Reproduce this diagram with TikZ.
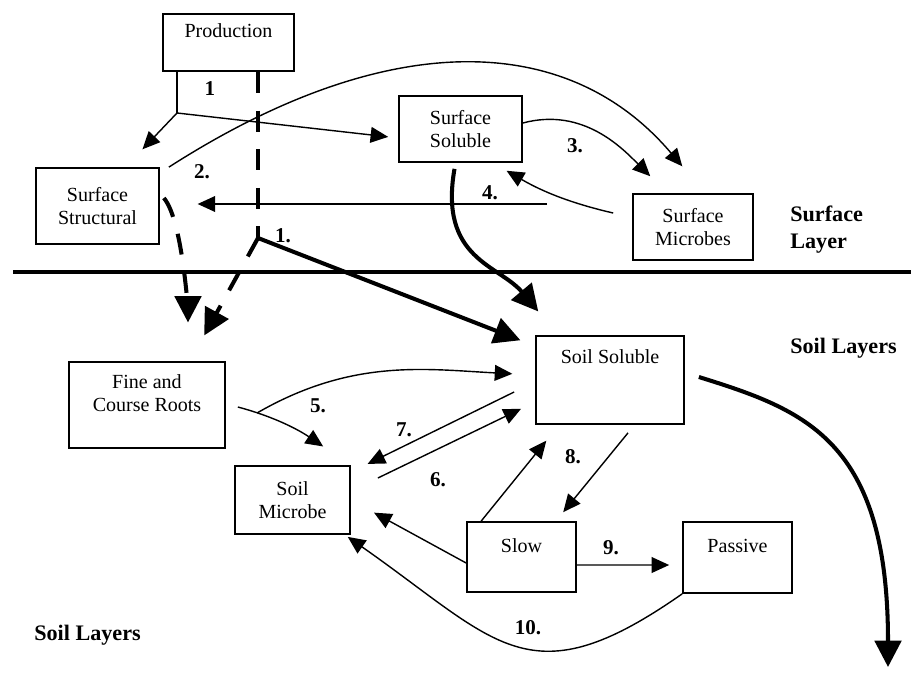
\documentclass[tikz,border=0pt]{standalone}
\usepackage{fontspec}
\setmainfont{Liberation Serif}
\usetikzlibrary{arrows.meta, calc}

\begin{document}
\begin{tikzpicture}[x=0.02cm, y=0.02cm,
        box/.style={draw, line width=1pt, align=center, inner sep=2pt, font=\fontsize{11.4}{13.5}\selectfont},
        num/.style={inner sep=0pt, font=\fontsize{12}{14}\selectfont\bfseries},
        layer/.style={inner sep=0pt, anchor=west, align=left, font=\fontsize{12.6}{15.3}\selectfont\bfseries},
        link/.style={line width=0.8pt},
        flow/.style={link, -{Triangle[length=10pt, width=9pt]}},
        bigflow/.style={line width=2.3pt, -{Triangle[length=15pt, width=15pt]}},
        dashline/.style={line width=2.3pt, dash pattern=on 12pt off 10pt},
        dashflow/.style={dashline, -{Triangle[length=15pt, width=15pt]}}]

        \useasboundingbox (0,0) rectangle (911,-679);

        % Capa superficial
        \node[box, minimum width=2.62cm, minimum height=1.14cm] (prod) at (228.5,-42.5) {Production\\~};
        \node[box, minimum width=2.46cm, minimum height=1.52cm] (sstruct) at (97.5,-206) {Surface\\Structural};
        \node[box, minimum width=2.46cm, minimum height=1.32cm] (ssol) at (460.5,-129) {Surface\\Soluble};
        \node[box, minimum width=2.4cm, minimum height=1.32cm] (smic) at (693,-227) {Surface\\Microbes};

        % Capas del suelo
        \node[box, minimum width=3.12cm, minimum height=1.72cm] (roots) at (147,-405) {Fine and\\Course Roots\\~};
        \node[box, minimum width=2.96cm, minimum height=1.76cm] (soilsol) at (610,-380) {Soil Soluble\\~\\~};
        \node[box, minimum width=2.3cm, minimum height=1.36cm] (soilmic) at (292.5,-500) {Soil\\Microbe};
        \node[box, minimum width=2.18cm, minimum height=1.4cm] (slow) at (521.5,-557) {Slow\\~};
        \node[box, minimum width=2.18cm, minimum height=1.42cm] (passive) at (737.5,-557.5) {Passive\\~};

        % Separacion de capas
        \draw[line width=2.3pt] (13,-272) -- (911,-272);
        \node[layer] (surflayer) at (790,-229.5) {Surface\\Layer};
        \node[layer] (soilright) at (790,-348) {Soil Layers};
        \node[layer] (soilleft) at (34,-635) {Soil Layers};

        % Puntos de union
        \coordinate (split) at (177,-113);
        \coordinate (drop) at (258,-238);
        \coordinate (fork) at (257,-413);
        \coordinate (leach) at (888,-667);

        % Flujos desde la produccion
        \draw[link] (prod.south -| split) -- (split);
        \draw[flow, shorten >=14pt] (split) -- ($(sstruct.north)+(28,0)$);
        \draw[flow, shorten >=5.7pt] (split) -- ($(ssol.west)+(0,-9)$);
        \draw[dashline] (prod.south -| drop) -- (drop);
        \draw[dashflow, shorten >=16.7pt] (drop) -- ($(roots.north)+(43,0)$);
        \draw[bigflow, shorten >=9pt] (drop) -- ($(soilsol.west)+(0,34)$);

        % Flujos superficiales
        \draw[dashflow, shorten >=22pt] ($(sstruct.east)+(4,8)$) to[out=-50, in=90, looseness=0.5] ($(roots.north)+(41,0)$);
        \draw[flow, shorten >=20pt] ($(sstruct.north east)+(9,0)$) .. controls (384,-29) and (566,-29) .. ($(smic.north)+(12,0)$);
        \draw[flow, shorten >=13.6pt] ($(ssol.east)+(0,6)$) to[out=15, in=135] ($(smic.north west)+(35,0)$);
        \draw[flow, shorten >=9pt] ($(smic.west)+(-19,14)$) to[out=167, in=-30] ($(ssol.south east)+(-30,0)$);
        \draw[flow, shorten >=21.5pt] ($(smic.west)+(-85,23)$) -- ($(sstruct.east)+(0,2)$);
        \draw[bigflow, shorten >=17.6pt] ($(ssol.south)+(-6,-6)$) to[out=-100, in=130, looseness=1.2] ($(soilsol.north west)+(23,0)$);

        % Flujos del suelo
        \draw[flow, shorten >=19pt] ($(roots.east)+(12,-2)$) to[out=-15, in=146] (soilmic.north east);
        \draw[flow, shorten >=13pt] (fork) to[out=30, in=177] ($(soilsol.west)+(0,5)$);
        \draw[flow, shorten >=10.6pt] ($(soilsol.west)+(-21,-12)$) -- ($(soilmic.north east)+(0,-7)$);
        \draw[flow, shorten >=8.9pt] ($(soilmic.east)+(27,22)$) -- ($(soilsol.west)+(0,-22)$);
        \draw[flow, shorten >=15pt] ($(slow.west)+(0,-6)$) -- (soilmic.east);
        \draw[flow, shorten >=11.6pt] ($(slow.north west)+(15,0)$) -- ($(soilsol.south west)+(24,0)$);
        \draw[flow, shorten >=6.6pt] ($(soilsol.south)+(18,-8)$) -- ($(slow.north east)+(-21,0)$);
        \draw[flow, shorten >=7.4pt] ($(slow.east)+(0,-8)$) -- ($(passive.west)+(0,-7.5)$);
        \draw[flow, shorten >=2pt] (passive.south west) to[out=215, in=-35, looseness=1.4] ($(soilmic.south east)+(-6,0)$);
        \draw[bigflow] ($(soilsol.east)+(14,3)$) .. controls (805,-410) and (888,-440) .. (leach);

        % Numeros de flujo
        \node[num] (n1a) at (210,-89) {1};
        \node[num] (n1b) at (283,-236) {1.};
        \node[num] (n2) at (202,-172) {2.};
        \node[num] (n3) at (575,-146) {3.};
        \node[num] (n4) at (490,-193) {4.};
        \node[num] (n5) at (318,-406) {5.};
        \node[num] (n6) at (438,-480) {6.};
        \node[num] (n7) at (404,-430) {7.};
        \node[num] (n8) at (573,-457) {8.};
        \node[num] (n9) at (611,-548) {9.};
        \node[num] (n10) at (528,-628) {10.};
\end{tikzpicture}
\end{document}
